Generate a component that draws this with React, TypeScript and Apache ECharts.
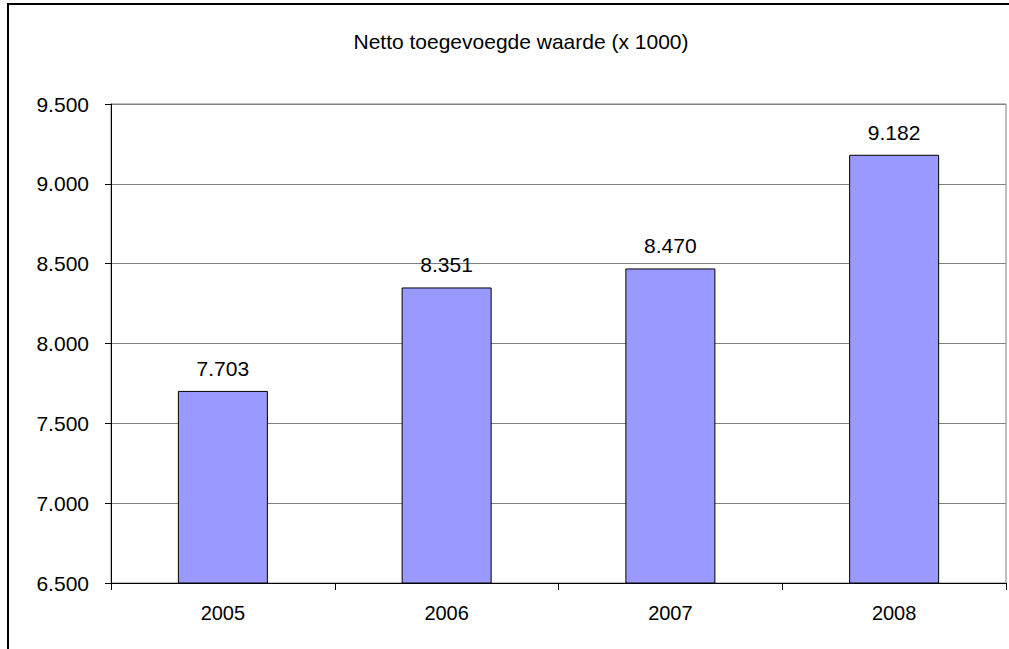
import React, { useEffect, useRef } from "react";
import * as echarts from "echarts";

const titleText = "Netto toegevoegde waarde (x 1000)";
const categories = ["2005", "2006", "2007", "2008"];
const values = [7703, 8351, 8470, 9182];
const yMin = 6500;
const yMax = 9500;
const yStep = 500;

const fmt = (v: number) => {
  const s = Math.round(v).toString();
  return s.replace(/\B(?=(\d{3})+(?!\d))/g, ".");
};

export default function App() {
  const ref = useRef<HTMLDivElement>(null);
  useEffect(() => {
    if (!ref.current) return;
    const chart = echarts.init(ref.current, null, { renderer: "svg" });
    const font = "'Liberation Sans', Arial, sans-serif";
    chart.setOption({
      animation: false,
      backgroundColor: "#ffffff",
      textStyle: { fontFamily: font },
      title: {
        text: titleText,
        left: 516,
        textAlign: "center",
        top: 26,
        textStyle: { fontFamily: font, fontSize: 21, fontWeight: "normal", color: "#000" },
      },
      graphic: [
        {
          type: "rect",
          shape: { x: 8, y: 4, width: 1100, height: 700 },
          style: { fill: "none", stroke: "#000", lineWidth: 2 },
          z: 100,
        },
      ],
      grid: {
        left: 111,
        top: 104,
        right: 3,
        bottom: 66,
        show: true,
        borderColor: "#808080",
        borderWidth: 1,
        containLabel: false,
      },
      xAxis: {
        type: "category",
        data: categories,
        axisLine: { lineStyle: { color: "#000", width: 1 } },
        axisTick: { show: true, length: 7, lineStyle: { color: "#000" } },
        axisLabel: { color: "#000", fontSize: 20, fontFamily: font, margin: 20 },
      },
      yAxis: {
        type: "value",
        min: yMin,
        max: yMax,
        interval: yStep,
        axisLine: { show: true, lineStyle: { color: "#000", width: 1 } },
        axisTick: { show: true, length: 6, lineStyle: { color: "#000" } },
        axisLabel: {
          color: "#000",
          fontSize: 21,
          fontFamily: font,
          margin: 22,
          formatter: (v: number) => fmt(v),
        },
        splitLine: { show: true, lineStyle: { color: "#808080", width: 1 } },
      },
      series: [
        {
          type: "bar",
          data: values,
          barWidth: 90,
          itemStyle: { color: "#9999ff", borderColor: "#000", borderWidth: 1 },
          label: {
            show: true,
            position: "top",
            distance: 12,
            color: "#000",
            fontSize: 21,
            fontFamily: font,
            formatter: (p: any) => fmt(p.value),
          },
        },
      ],
    });
    return () => chart.dispose();
  }, []);
  return (
    <div
      ref={ref}
      style={{ position: "absolute", left: 0, top: 0, width: 1009, height: 649 }}
    />
  );
}
